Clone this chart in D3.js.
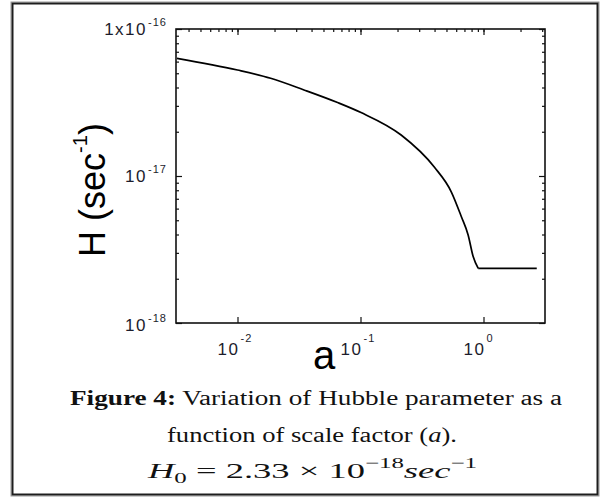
<!DOCTYPE html>
<html>
<head>
<meta charset="utf-8">
<script src="https://cdn.jsdelivr.net/npm/d3@7"></script>
<style>
  html, body { margin: 0; padding: 0; background: #fff; }
  svg { display: block; }
</style>
</head>
<body>
<svg id="chart" width="608" height="497"></svg>
<script>
// ---- data ----
const aValues = [0.00322, 0.0100, 0.0186, 0.0347, 0.0651, 0.101, 0.214, 0.398, 0.548, 0.661, 0.750, 0.824, 0.906, 2.71];
const hValues = [6.32e-17, 5.26e-17, 4.62e-17, 3.85e-17, 3.16e-17, 2.70e-17, 1.90e-17, 1.15e-17, 7.78e-18, 5.28e-18, 3.97e-18, 2.83e-18, 2.35e-18, 2.35e-18];
const xTickValues = [0.01, 0.1, 1];
const xTickBase = ["10", "10", "10"];
const xTickExp = ["-2", "-1", "0"];
const yTickValues = [1e-16, 1e-17, 1e-18];
const yTickBase = ["1x10", "10", "10"];
const yTickExp = ["-16", "-17", "-18"];
const xDomain = [Math.pow(10, -2.5), Math.pow(10, 0.5)];
const yDomain = [1e-18, 1e-16];

const svg = d3.select("#chart");
const L = 176, R = 545, T = 29, B = 323;

// outer frame
svg.append("rect").attr("x", 11).attr("y", 2).attr("width", 588).attr("height", 494)
  .attr("fill", "none").attr("stroke", "#9a9a9a").attr("stroke-width", 1);
svg.append("rect").attr("x", 12.5).attr("y", 3.5).attr("width", 585).attr("height", 491)
  .attr("fill", "none").attr("stroke", "#1e1e1e").attr("stroke-width", 2);

const x = d3.scaleLog().domain(xDomain).range([L, R]);
const y = d3.scaleLog().domain(yDomain).range([B, T]);

// minor tick values
const xMinor = [];
for (let e = -3; e <= 0; e++) for (let m = 1; m <= 9; m++) {
  const v = m * Math.pow(10, e);
  if (v >= xDomain[0] && v <= xDomain[1]) xMinor.push(v);
}
const yMinor = [];
for (let e = -18; e <= -17; e++) for (let m = 2; m <= 9; m++) yMinor.push(m * Math.pow(10, e));

function styleAxis(g) {
  g.select(".domain").remove();
  g.selectAll("line").attr("stroke", "#111").attr("stroke-width", 1.2);
  g.selectAll("text").remove();
}

svg.append("g").attr("transform", `translate(0,${B})`)
  .call(d3.axisBottom(x).tickValues(xTickValues).tickSize(-6).tickFormat(""))
  .call(styleAxis);
svg.append("g").attr("transform", `translate(0,${T})`)
  .call(d3.axisTop(x).tickValues(xMinor).tickSize(-3).tickFormat(""))
  .call(styleAxis);
svg.append("g").attr("transform", `translate(0,${T})`)
  .call(d3.axisTop(x).tickValues(xTickValues).tickSize(-6).tickFormat(""))
  .call(styleAxis);
svg.append("g").attr("transform", `translate(${L},0)`)
  .call(d3.axisLeft(y).tickValues(yMinor).tickSize(-3).tickFormat(""))
  .call(styleAxis);
svg.append("g").attr("transform", `translate(${L},0)`)
  .call(d3.axisLeft(y).tickValues(yTickValues).tickSize(-6).tickFormat(""))
  .call(styleAxis);
svg.append("g").attr("transform", `translate(${R},0)`)
  .call(d3.axisRight(y).tickValues(yMinor).tickSize(-3).tickFormat(""))
  .call(styleAxis);
svg.append("g").attr("transform", `translate(${R},0)`)
  .call(d3.axisRight(y).tickValues(yTickValues).tickSize(-6).tickFormat(""))
  .call(styleAxis);

// plot frame
svg.append("rect").attr("x", L).attr("y", T).attr("width", R - L).attr("height", B - T)
  .attr("fill", "none").attr("stroke", "#111").attr("stroke-width", 1.6);

// curve
const pts = aValues.map((a, i) => [a, hValues[i]]);
const nCurve = pts.length - 1;
const lineCurve = d3.line().x(d => x(d[0])).y(d => y(d[1])).curve(d3.curveMonotoneX);
const lineFlat = d3.line().x(d => x(d[0])).y(d => y(d[1]));
svg.append("path").attr("d", lineCurve(pts.slice(0, nCurve)))
  .attr("fill", "none").attr("stroke", "#000").attr("stroke-width", 1.7);
svg.append("path").attr("d", lineFlat(pts.slice(nCurve - 1)))
  .attr("fill", "none").attr("stroke", "#000").attr("stroke-width", 1.7);

const sans = "Liberation Sans, Arial, sans-serif";
const tickColor = "#1c1c2c";

// x tick labels
xTickValues.forEach((v, i) => {
  svg.append("text").attr("x", x(v) + 2).attr("y", 355)
    .attr("text-anchor", "end").attr("font-family", sans).attr("font-size", 17)
    .attr("fill", tickColor).attr("letter-spacing", 1.5).text(xTickBase[i]);
  svg.append("text").attr("x", x(v) + 3).attr("y", 342)
    .attr("text-anchor", "start").attr("font-family", sans).attr("font-size", 11)
    .attr("fill", tickColor).attr("letter-spacing", 1).text(xTickExp[i]);
});
// y tick labels
yTickValues.forEach((v, i) => {
  const by = y(v) + (i === 2 ? 8 : 6);
  svg.append("text").attr("x", 147).attr("y", by)
    .attr("text-anchor", "end").attr("font-family", sans).attr("font-size", 17)
    .attr("fill", tickColor).attr("letter-spacing", 1.5).text(yTickBase[i]);
  svg.append("text").attr("x", 148).attr("y", by - 9)
    .attr("text-anchor", "start").attr("font-family", sans).attr("font-size", 11)
    .attr("fill", tickColor).attr("letter-spacing", 1).text(yTickExp[i]);
});

// axis titles
svg.append("text").attr("x", 324).attr("y", 369).attr("text-anchor", "middle")
  .attr("font-family", sans).attr("font-size", 40).attr("fill", "#000").text("a");
const yt = svg.append("text").attr("transform", "translate(105,190) rotate(-90)")
  .attr("text-anchor", "middle").attr("font-family", sans).attr("font-size", 36).attr("fill", "#000");
yt.append("tspan").text("H (sec");
yt.append("tspan").attr("dy", -18).attr("font-size", 20).text("-1");
yt.append("tspan").attr("dy", 18).text(")");

// caption
const serif = "Liberation Serif, Times New Roman, serif";
const c1 = svg.append("text").attr("x", 70).attr("y", 405).attr("font-family", serif)
  .attr("font-size", 20).attr("fill", "#111")
  .attr("textLength", 492).attr("lengthAdjust", "spacingAndGlyphs");
c1.append("tspan").attr("font-weight", "bold").text("Figure 4:");
c1.append("tspan").text(" Variation of Hubble parameter as a");

const c2 = svg.append("text").attr("x", 167).attr("y", 442).attr("font-family", serif)
  .attr("font-size", 20).attr("fill", "#111")
  .attr("textLength", 290).attr("lengthAdjust", "spacingAndGlyphs");
c2.append("tspan").text("function of scale factor (");
c2.append("tspan").attr("font-style", "italic").text("a");
c2.append("tspan").text(").");

const c3 = svg.append("text").attr("x", 148).attr("y", 478).attr("font-family", serif)
  .attr("font-size", 22).attr("fill", "#111")
  .attr("textLength", 329).attr("lengthAdjust", "spacingAndGlyphs");
c3.append("tspan").attr("font-style", "italic").text("H");
c3.append("tspan").attr("dy", 5).attr("font-size", 15).text("0");
c3.append("tspan").attr("dy", -5).text(" = 2.33 \u00d7 10");
c3.append("tspan").attr("dy", -10).attr("font-size", 15).text("\u221218");
c3.append("tspan").attr("dy", 10).attr("font-style", "italic").text("sec");
c3.append("tspan").attr("dy", -10).attr("font-size", 15).text("\u22121");
</script>
</body>
</html>
